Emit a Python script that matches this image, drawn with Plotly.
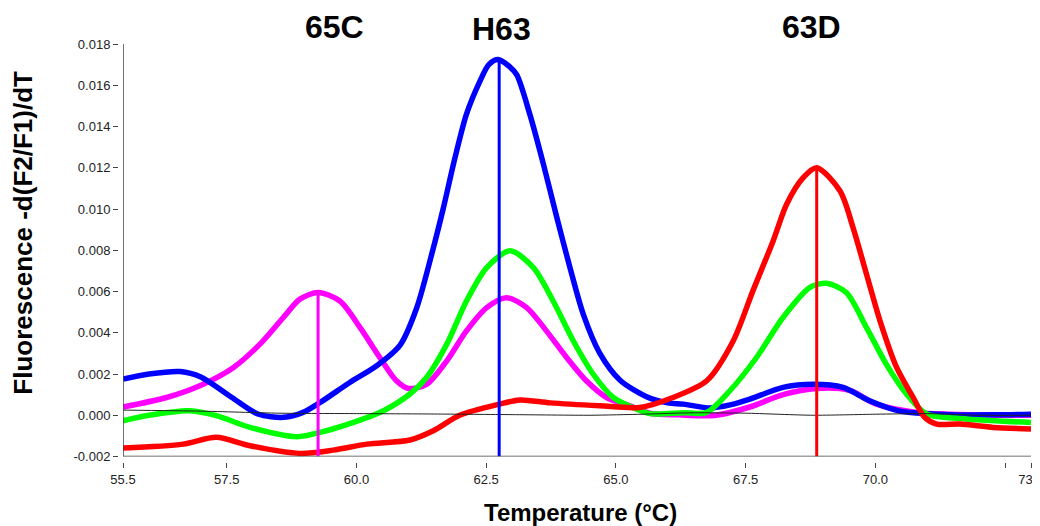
import plotly.graph_objects as go

# ---- data ----
blue_t = [55.5, 56.0, 56.6, 57.0, 57.6, 58.1, 58.6, 58.97, 59.3, 59.87, 60.39, 60.84, 61.16, 61.48, 61.67,
          61.9, 62.12, 62.38, 62.55, 62.73, 62.95, 63.09, 63.34, 63.6, 63.86, 64.11, 64.37, 64.69, 65.08,
          65.59, 66.0, 66.3, 66.81, 67.2, 67.58, 68.22, 68.8, 69.38, 69.89, 70.47, 71.43, 72.3, 73.0]
blue_v = [0.00175, 0.0020, 0.00212, 0.00186, 0.00086, 0.00006, -0.0001, 0.00014, 0.00062, 0.00159, 0.0024,
          0.0034, 0.0052, 0.0081, 0.0100, 0.0125, 0.0146, 0.0162, 0.0170, 0.01725, 0.0169, 0.0165, 0.0146,
          0.0122, 0.0096, 0.0072, 0.0049, 0.0030, 0.0017, 0.0009, 0.0006, 0.00054, 0.00035, 0.0005,
          0.00078, 0.00135, 0.0015, 0.00135, 0.0007, 0.0002, 0.00003, 0.00002, 0.00005]

magenta_t = [55.5, 56.34, 56.98, 57.63, 58.14, 58.59, 58.91, 59.26, 59.68, 60.07, 60.45, 60.77, 61.0,
             61.35, 61.74, 62.12, 62.51, 62.89, 63.28, 63.66, 64.05, 64.43, 64.82, 65.27, 65.65, 66.2,
             66.9, 67.58, 68.22, 68.87, 69.51, 70.02, 70.79, 71.43, 72.3, 73.0]
magenta_v = [0.0004, 0.00086, 0.00143, 0.00232, 0.00345, 0.00474, 0.00563, 0.00595, 0.00554, 0.00425,
             0.0028, 0.00167, 0.0013, 0.0015, 0.00264, 0.00409, 0.00522, 0.0057, 0.00522, 0.00409, 0.0028,
             0.00167, 0.00086, 0.00046, 0.0001, 0.00002, -0.00001, 0.0004, 0.001, 0.0013, 0.0012, 0.00054,
             0.00014, 0.00005, 0.0, 0.0]

green_t = [55.5, 56.0, 56.79, 57.3, 57.95, 58.85, 59.42, 59.94, 60.52, 61.03, 61.35, 61.74, 62.12, 62.51,
           62.96, 63.41, 63.79, 64.18, 64.56, 64.95, 65.3, 65.65, 66.3, 66.75, 67.2, 67.71, 68.22, 68.74,
           69.06, 69.44, 69.83, 70.21, 70.6, 70.99, 71.76, 72.4, 73.0]
green_v = [-0.00027, 0.0, 0.00022, -0.00002, -0.00059, -0.00104, -0.00075, -0.00035, 0.00022, 0.00103,
           0.00183, 0.00345, 0.00554, 0.00716, 0.00797, 0.00716, 0.00554, 0.0036, 0.002, 0.00086, 0.0004,
           0.00008, 0.00012, 0.00014, 0.0012, 0.0028, 0.00474, 0.0062, 0.0064, 0.00595, 0.00425, 0.00248,
           0.00103, 0.00006, -0.00018, -0.00028, -0.00035]

red_t = [55.5, 56.66, 57.3, 57.95, 58.91, 59.55, 60.2, 61.03, 61.48, 61.99, 62.76, 63.15, 63.73, 64.69,
         65.46, 66.1, 66.75, 67.26, 67.64, 68.03, 68.29, 68.61, 68.87, 69.32, 69.57, 69.83, 70.09, 70.41,
         70.73, 70.95, 71.18, 71.63, 72.27, 73.0]
red_v = [-0.00159, -0.0014, -0.00107, -0.00148, -0.00185, -0.00169, -0.0014, -0.0012, -0.00075, 0.0,
         0.00054, 0.00074, 0.0006, 0.00046, 0.00038, 0.00086, 0.00167, 0.0036, 0.00603, 0.00845, 0.01023,
         0.01152, 0.012, 0.01087, 0.0091, 0.00684, 0.00458, 0.00232, 0.00086, -0.0001, -0.00043, -0.00043,
         -0.00059, -0.00067]

base_t = [55.5, 57.0, 58.5, 60.0, 61.5, 63.0, 64.5, 65.5, 66.5, 67.5, 68.8, 70.0, 71.0, 72.0, 73.0]
base_v = [0.00025, 0.0002, 0.0001, 0.00008, 0.00006, 0.00003, 0.0, 0.00005, 0.00012, 0.0001, 0.0,
          0.00005, 0.00008, 0.0, 0.0]

peak_names = ["65C", "H63", "63D"]
peak_temps = [59.26, 62.75, 68.87]
peak_heights = [0.00595, 0.01725, 0.012]
peak_colors = ["#FF00FF", "#0000FF", "#FF0000"]
label_x = [59.57, 62.8, 68.76]
label_y = [1.041, 1.036, 1.040]

x_ticks = [55.5, 57.5, 60.0, 62.5, 65.0, 67.5, 70.0, 73.0]
x_ticklabels = ["55.5", "57.5", "60.0", "62.5", "65.0", "67.5", "70.0", "73.0"]
x_minor_ticks = [72.5]
y_ticks = [-0.002, 0.0, 0.002, 0.004, 0.006, 0.008, 0.010, 0.012, 0.014, 0.016, 0.018]
y_ticklabels = ["-0.002", "0.000", "0.002", "0.004", "0.006", "0.008", "0.010", "0.012", "0.014",
                "0.016", "0.018"]
x_range = [55.5, 73.0]
y_range = [-0.002, 0.018]

FONT = "Liberation Sans, Arial, sans-serif"
AXIS_COLOR = "#444444"

fig = go.Figure()
for t, v, c in [(magenta_t, magenta_v, "#FF00FF"), (blue_t, blue_v, "#0000FF"),
                (green_t, green_v, "#00FF00"), (red_t, red_v, "#FF0000")]:
    fig.add_trace(go.Scatter(x=t, y=v, mode="lines",
                             line=dict(color=c, width=5.5, shape="spline", smoothing=0.8),
                             showlegend=False, hoverinfo="skip"))
fig.add_trace(go.Scatter(x=base_t, y=base_v, mode="lines",
                         line=dict(color="#222222", width=1, shape="spline", smoothing=0.6),
                         showlegend=False, hoverinfo="skip"))
for pt, ph, pc in zip(peak_temps, peak_heights, peak_colors):
    fig.add_trace(go.Scatter(x=[pt, pt], y=[y_range[0], ph], mode="lines",
                             line=dict(color=pc, width=3), showlegend=False, hoverinfo="skip"))

for name, lx, ly in zip(peak_names, label_x, label_y):
    fig.add_annotation(x=lx, xref="x", y=ly, yref="paper", text="<b>%s</b>" % name,
                       showarrow=False, xanchor="center", yanchor="middle",
                       font=dict(family=FONT, size=32, color="black"))

fig.add_annotation(x=0.507, xref="paper", y=-0.12, yref="paper",
                   text="<b>Temperature (\u00b0C)</b>",
                   showarrow=False, xanchor="center", yanchor="middle",
                   font=dict(family=FONT, size=24, color="black"))
fig.add_annotation(x=-0.105, xref="paper", y=0.549, yref="paper", text="<b>Fluorescence -d(F2/F1)/dT</b>",
                   showarrow=False, xanchor="center", yanchor="middle", textangle=-90,
                   font=dict(family=FONT, size=26, color="black"))

# axis lines drawn at the data-area edges; ticks sit slightly detached, as in the reference
fig.add_shape(type="line", xref="x", yref="y", x0=x_range[0], x1=x_range[0], y0=y_range[0], y1=y_range[1],
              line=dict(color=AXIS_COLOR, width=1.5))
fig.add_shape(type="line", xref="x", yref="y", x0=x_range[0], x1=x_range[1], y0=y_range[0], y1=y_range[0],
              line=dict(color=AXIS_COLOR, width=1.5))

tick_common = dict(showgrid=False, zeroline=False, showline=False,
                   ticks="outside", ticklen=5, tickcolor=AXIS_COLOR, tickwidth=1.2,
                   tickfont=dict(family=FONT, size=13, color="#222222"), automargin=False,
                   ticklabeloverflow="allow")

PLOT_W = 913.0
PLOT_H = 418.0
fig.update_xaxes(range=x_range, tickmode="array", tickvals=x_ticks, ticktext=x_ticklabels,
                 domain=[5.0 / PLOT_W, 1.0], anchor="free", position=0.0,
                 minor=dict(tickmode="array", tickvals=x_minor_ticks, ticks="outside", ticklen=5,
                            tickcolor=AXIS_COLOR, tickwidth=1.2, showgrid=False),
                 **tick_common)
fig.update_yaxes(range=y_range, tickmode="array", tickvals=y_ticks, ticktext=y_ticklabels,
                 domain=[5.5 / PLOT_H, 1.0], anchor="free", position=0.0,
                 **tick_common)

fig.update_layout(width=1032, height=518, template="none",
                  margin=dict(l=110, r=9, t=36, b=64),
                  paper_bgcolor="white", plot_bgcolor="white", showlegend=False)

fig.write_html("out.html")
